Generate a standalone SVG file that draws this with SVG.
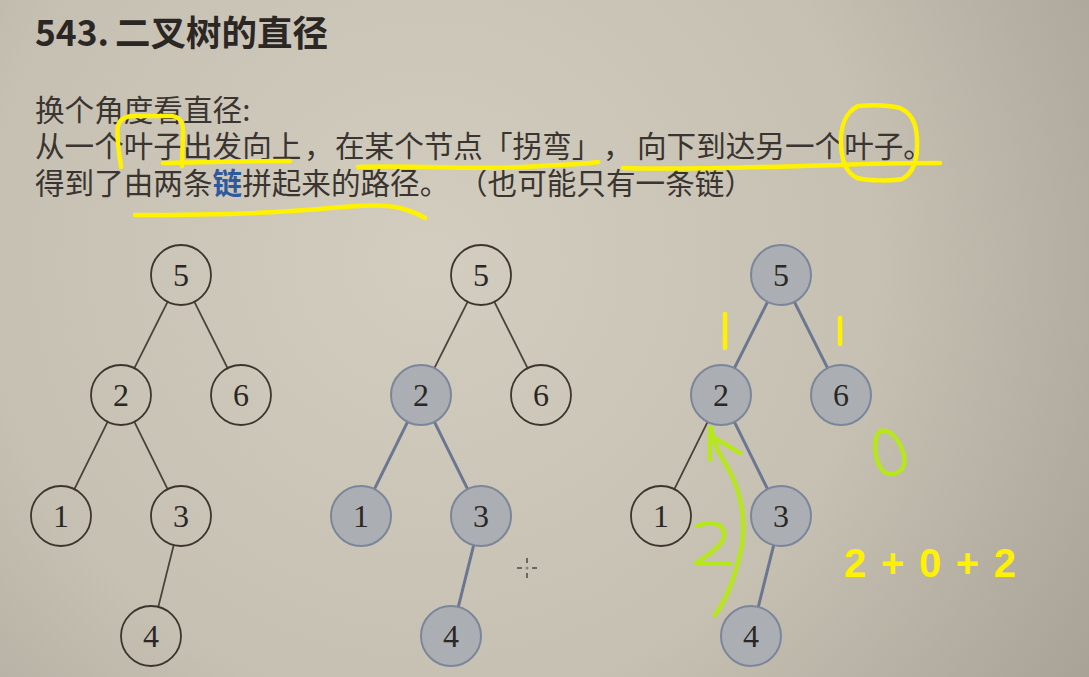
<svg xmlns="http://www.w3.org/2000/svg" width="1089" height="677" viewBox="0 0 1089 677">
  <defs>
    <radialGradient id="bg" cx="430" cy="260" r="820" gradientUnits="userSpaceOnUse">
      <stop offset="0" stop-color="#d3cdc0"/>
      <stop offset="0.55" stop-color="#c6c0b3"/>
      <stop offset="1" stop-color="#a59f93"/>
    </radialGradient>
    <style>
      .title { font-family: "Noto Sans CJK SC", "Liberation Sans", sans-serif; font-weight: bold; font-size: 35.5px; fill: #2b2724; }
      .body { font-family: "Noto Sans CJK SC", sans-serif; font-size: 29.6px; fill: #3a3530; }
      .hl { fill: #2d5a9e; font-weight: bold; }
      .num { font-family: "Liberation Serif", serif; font-size: 32px; fill: #2b2724; text-anchor: middle; }
      .plain { fill: none; stroke: #3d352c; stroke-width: 1.8; }
      .shade { fill: #abafb3; stroke: #7b869a; stroke-width: 2; }
      .e { stroke: #4a4239; stroke-width: 1.8; stroke-linecap: round; }
      .eh { stroke: #6b7790; stroke-width: 3; stroke-linecap: round; }
      .pen-y { fill: none; stroke: #fff200; stroke-width: 4.5; stroke-linecap: round; stroke-linejoin: round; }
      .pen-g { fill: none; stroke: #b6e61c; stroke-width: 4.5; stroke-linecap: round; stroke-linejoin: round; }
      .sum { font-family: "Liberation Sans", sans-serif; font-weight: bold; font-size: 40px; fill: #fff200; }
    </style>
  </defs>

  <rect width="1089" height="677" fill="url(#bg)"/>

  <!-- heading and explanation -->
  <g id="title">
    <text class="title" x="35" y="46" textLength="74" lengthAdjust="spacingAndGlyphs">543.</text>
    <text class="title" x="115" y="46">二叉树的直径</text>
  </g>
  <g id="explanation">
    <text class="body" x="35" y="121">换个角度看直径:</text>
    <text class="body" y="157"><tspan x="35">从一个叶子出发向上</tspan><tspan x="304">，</tspan><tspan x="335">在某个节点「拐弯」</tspan><tspan x="603">，</tspan><tspan x="637">向下到达另一个叶子。</tspan></text>
    <text class="body" y="194"><tspan x="35">得到了由两条</tspan><tspan class="hl">链</tspan><tspan>拼起来的路径。</tspan><tspan x="458">（也可能只有一条链）</tspan></text>
  </g>

  <!-- connectors of the three trees -->
  <g id="connectors">
    <!-- tree 1 -->
    <line class="e" x1="167.6" y1="301.8" x2="134.4" y2="368.2"/>
    <line class="e" x1="194.4" y1="301.8" x2="227.6" y2="368.2"/>
    <line class="e" x1="107.6" y1="421.8" x2="74.4" y2="489.2"/>
    <line class="e" x1="134.4" y1="421.8" x2="167.6" y2="489.2"/>
    <line class="e" x1="173.7" y1="545.1" x2="158.3" y2="606.9"/>
    <!-- tree 2 -->
    <line class="e" x1="467.6" y1="301.8" x2="434.4" y2="368.2"/>
    <line class="e" x1="494.4" y1="301.8" x2="527.6" y2="368.2"/>
    <line class="eh" x1="407.6" y1="421.8" x2="374.4" y2="489.2"/>
    <line class="eh" x1="434.4" y1="421.8" x2="467.6" y2="489.2"/>
    <line class="eh" x1="473.7" y1="545.1" x2="458.3" y2="606.9"/>
    <!-- tree 3 -->
    <line class="eh" x1="767.6" y1="301.8" x2="734.4" y2="368.2"/>
    <line class="eh" x1="794.4" y1="301.8" x2="827.6" y2="368.2"/>
    <line class="e" x1="707.6" y1="421.8" x2="674.4" y2="489.2"/>
    <line class="eh" x1="734.4" y1="421.8" x2="767.6" y2="489.2"/>
    <line class="eh" x1="773.7" y1="545.1" x2="758.3" y2="606.9"/>
  </g>

  <!-- tree 1 nodes -->
  <g id="t1-n5"><circle class="plain" cx="181" cy="275" r="30"/><text class="num" x="181" y="286">5</text></g>
  <g id="t1-n2"><circle class="plain" cx="121" cy="395" r="30"/><text class="num" x="121" y="406">2</text></g>
  <g id="t1-n6"><circle class="plain" cx="241" cy="395" r="30"/><text class="num" x="241" y="406">6</text></g>
  <g id="t1-n1"><circle class="plain" cx="61" cy="516" r="30"/><text class="num" x="61" y="527">1</text></g>
  <g id="t1-n3"><circle class="plain" cx="181" cy="516" r="30"/><text class="num" x="181" y="527">3</text></g>
  <g id="t1-n4"><circle class="plain" cx="151" cy="636" r="30"/><text class="num" x="151" y="647">4</text></g>

  <!-- tree 2 nodes -->
  <g id="t2-n5"><circle class="plain" cx="481" cy="275" r="30"/><text class="num" x="481" y="286">5</text></g>
  <g id="t2-n2"><circle class="shade" cx="421" cy="395" r="30"/><text class="num" x="421" y="406">2</text></g>
  <g id="t2-n6"><circle class="plain" cx="541" cy="395" r="30"/><text class="num" x="541" y="406">6</text></g>
  <g id="t2-n1"><circle class="shade" cx="361" cy="516" r="30"/><text class="num" x="361" y="527">1</text></g>
  <g id="t2-n3"><circle class="shade" cx="481" cy="516" r="30"/><text class="num" x="481" y="527">3</text></g>
  <g id="t2-n4"><circle class="shade" cx="451" cy="636" r="30"/><text class="num" x="451" y="647">4</text></g>

  <!-- tree 3 nodes -->
  <g id="t3-n5"><circle class="shade" cx="781" cy="275" r="30"/><text class="num" x="781" y="286">5</text></g>
  <g id="t3-n2"><circle class="shade" cx="721" cy="395" r="30"/><text class="num" x="721" y="406">2</text></g>
  <g id="t3-n6"><circle class="shade" cx="841" cy="395" r="30"/><text class="num" x="841" y="406">6</text></g>
  <g id="t3-n1"><circle class="plain" cx="661" cy="516" r="30"/><text class="num" x="661" y="527">1</text></g>
  <g id="t3-n3"><circle class="shade" cx="781" cy="516" r="30"/><text class="num" x="781" y="527">3</text></g>
  <g id="t3-n4"><circle class="shade" cx="751" cy="636" r="30"/><text class="num" x="751" y="647">4</text></g>

  <!-- pointer cursor -->
  <g id="cursor" stroke="#3a3530" stroke-width="1.3">
    <line x1="517" y1="568" x2="522" y2="568"/>
    <line x1="532" y1="568" x2="537" y2="568"/>
    <line x1="527" y1="558" x2="527" y2="563"/>
    <line x1="527" y1="573" x2="527" y2="578"/>
    <circle cx="527" cy="568" r="1.5" fill="#8a857c" stroke="none"/>
  </g>

  <!-- yellow pen marks over the text -->
  <g id="pen-text">
    <path class="pen-y" d="M121,167 C119,152 116,136 118,126 C120,118 126,116 134,116 L172,116 C180,117 183,122 183,132 L182,166"/>
    <path class="pen-y" d="M163,163 C200,162 250,161 290,161"/>
    <path class="pen-y" d="M358,167 C420,165 470,170 520,167 C560,165 585,164 598,162"/>
    <path class="pen-y" d="M623,168 C680,170 760,167 840,165 C880,163 910,163 940,163"/>
    <path class="pen-y" d="M858,106 C846,112 840,126 841,145 C842,160 845,172 857,178 C870,181 892,181 902,179 C914,173 918,158 917,138 C916,122 911,113 900,108 C888,105 870,105 858,106 Z"/>
    <path class="pen-y" d="M135,215 C200,215 280,213 330,208 C360,205 385,204 400,208 C412,211 420,215 425,218"/>
  </g>

  <!-- annotations on the third tree -->
  <g id="pen-tree">
    <path class="pen-y" d="M725,314 L725,348"/>
    <path class="pen-y" d="M840,318 L840,344"/>
    <path class="pen-g" d="M715,615 C726,600 736,575 742,545 C746,515 740,490 728,468 C720,455 714,445 711,428"/>
    <path class="pen-g" d="M710,428 L710,460"/>
    <path class="pen-g" d="M713,437 L740,453"/>
    <path class="pen-g" d="M697,526 C712,520 726,524 724,537 C721,548 703,558 696,563 L730,564"/>
    <path class="pen-g" d="M880,431 C872,440 874,462 884,472 C895,478 907,470 904,456 C901,442 891,428 880,431 Z"/>
    <text class="sum" x="844" y="577" textLength="172" lengthAdjust="spacing">2 + 0 + 2</text>
  </g>
</svg>
